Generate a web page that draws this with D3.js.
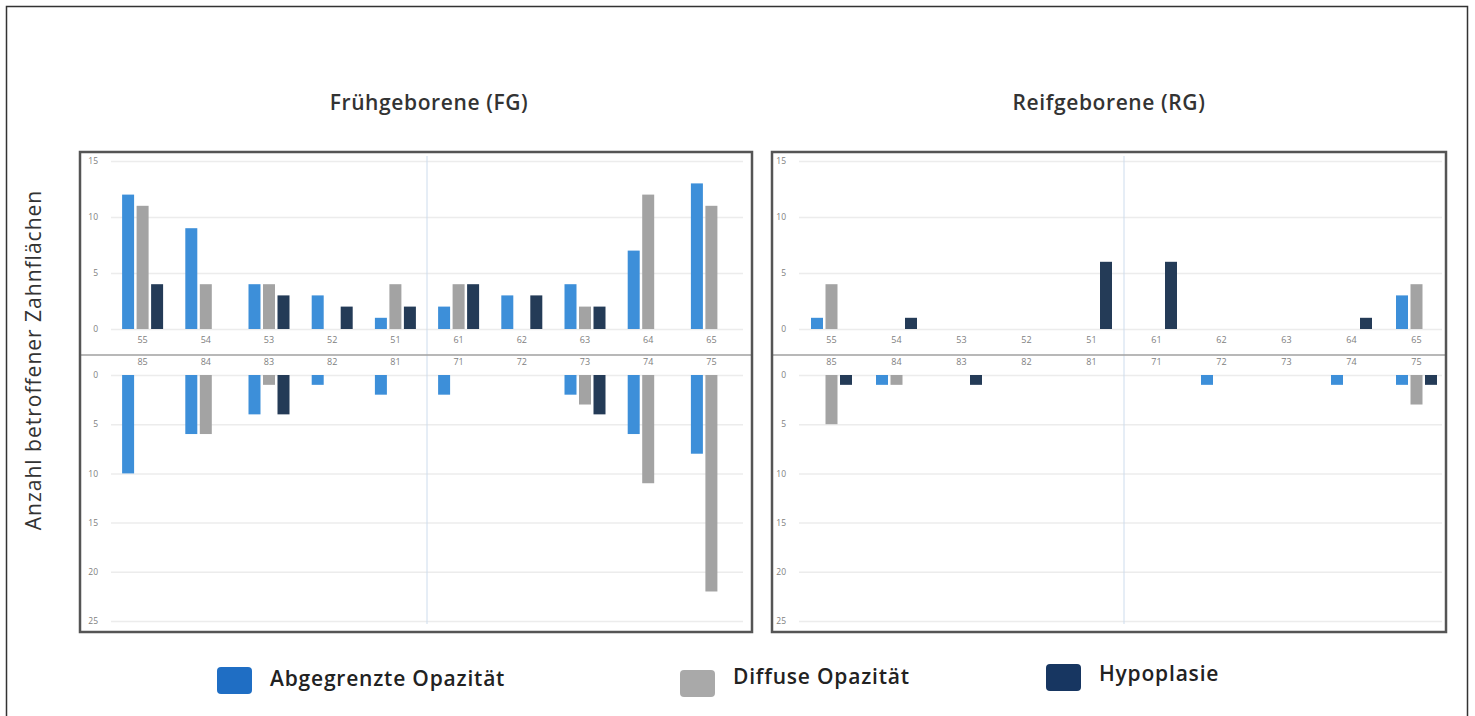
<!DOCTYPE html>
<html>
<head>
<meta charset="utf-8">
<script src="https://cdn.jsdelivr.net/npm/d3@7"></script>
<style>
  body { margin: 0; background: #fff; }
  svg { display: block; font-family: "Open Sans", sans-serif; }
</style>
</head>
<body>
<div id="chart"></div>
<script>
// tooth labels (upper row = Oberkiefer, lower row = Unterkiefer)
const topTeeth = ['55', '54', '53', '52', '51', '61', '62', '63', '64', '65'];
const bottomTeeth = ['85', '84', '83', '82', '81', '71', '72', '73', '74', '75'];
const seriesNames = ['Abgegrenzte Opazität', 'Diffuse Opazität', 'Hypoplasie'];

const topTicks = [0, 5, 10, 15];
const bottomTicks = [0, 5, 10, 15, 20, 25];

// Frühgeborene
const fgTopAbg = [12, 9, 4, 3, 1, 2, 3, 4, 7, 13];
const fgTopDif = [11, 4, 4, 0, 4, 4, 0, 2, 12, 11];
const fgTopHyp = [4, 0, 3, 2, 2, 4, 3, 2, 0, 0];
const fgBotAbg = [10, 6, 4, 1, 2, 2, 0, 2, 6, 8];
const fgBotDif = [0, 6, 1, 0, 0, 0, 0, 3, 11, 22];
const fgBotHyp = [0, 0, 4, 0, 0, 0, 0, 4, 0, 0];

// Reifgeborene
const rgTopAbg = [1, 0, 0, 0, 0, 0, 0, 0, 0, 3];
const rgTopDif = [4, 0, 0, 0, 0, 0, 0, 0, 0, 4];
const rgTopHyp = [0, 1, 0, 0, 6, 6, 0, 0, 1, 0];
const rgBotAbg = [0, 1, 0, 0, 0, 0, 1, 0, 1, 1];
const rgBotDif = [5, 1, 0, 0, 0, 0, 0, 0, 0, 3];
const rgBotHyp = [1, 0, 1, 0, 0, 0, 0, 0, 0, 1];

const barColors = ['#3d8fd9', '#a3a3a3', '#243b57'];
const legendColors = ['#1f6ec4', '#a9a9a9', '#173661'];

const width = 1475, height = 716;

const svg = d3.select('#chart').append('svg')
    .attr('width', width)
    .attr('height', height);

// outer frame
svg.append('rect')
    .attr('x', 6.5).attr('y', 6.5)
    .attr('width', 1461).attr('height', 720)
    .attr('fill', 'none')
    .attr('stroke', '#333')
    .attr('stroke-width', 1.5);

const panels = [
    {title: 'Frühgeborene (FG)', titleX: 429, box: [80, 152, 752, 632], band: [111, 743],
     top: [fgTopAbg, fgTopDif, fgTopHyp], bottom: [fgBotAbg, fgBotDif, fgBotHyp]},
    {title: 'Reifgeborene (RG)', titleX: 1109, box: [772, 152, 1446, 632], band: [799, 1449],
     top: [rgTopAbg, rgTopDif, rgTopHyp], bottom: [rgBotAbg, rgBotDif, rgBotHyp]}
];

const barW = 12;
const offsets = [-14.5, 0, 14.5];

panels.forEach(p => {
    const [bx0, by0, bx1, by1] = p.box;
    const g = svg.append('g');

    const x = d3.scaleBand()
        .domain(d3.range(topTeeth.length))
        .range(p.band);
    const yTop = d3.scaleLinear().domain([0, 15]).range([329, 161]);
    const yBot = d3.scaleLinear().domain([0, 25]).range([375, 621]);

    const gridEnd = Math.min(p.band[1], bx1 - 4);
    const gridW = gridEnd - p.band[0];

    // gridlines + tick labels
    const topAxis = g.append('g')
        .attr('transform', `translate(${p.band[0]},0)`)
        .call(d3.axisLeft(yTop).tickValues(topTicks).tickSize(-gridW).tickPadding(13));
    const botAxis = g.append('g')
        .attr('transform', `translate(${p.band[0]},0)`)
        .call(d3.axisLeft(yBot).tickValues(bottomTicks).tickSize(-gridW).tickPadding(13));
    [topAxis, botAxis].forEach(a => {
        a.select('.domain').remove();
        a.selectAll('line').attr('stroke', '#ececec').attr('stroke-width', 1.5);
        a.selectAll('text').attr('fill', '#808080').style('font-size', '8.5px')
            .style('font-family', '"Open Sans", sans-serif');
    });

    // vertical midline
    g.append('line')
        .attr('x1', p.band[0] + x.step() * 5).attr('x2', p.band[0] + x.step() * 5)
        .attr('y1', by0 + 4).attr('y2', by1 - 8)
        .attr('stroke', '#cddced').attr('stroke-width', 1);

    // separator between upper and lower jaw
    g.append('line')
        .attr('x1', bx0).attr('x2', bx1)
        .attr('y1', 355).attr('y2', 355)
        .attr('stroke', '#a0a0a0').attr('stroke-width', 1.5);

    // tooth labels
    g.selectAll('.toplbl').data(topTeeth).enter().append('text')
        .attr('x', (d, i) => x(i) + x.bandwidth() / 2)
        .attr('y', 343)
        .attr('text-anchor', 'middle')
        .attr('fill', '#808080')
        .style('font-size', '9px')
        .text(d => d);
    g.selectAll('.botlbl').data(bottomTeeth).enter().append('text')
        .attr('x', (d, i) => x(i) + x.bandwidth() / 2)
        .attr('y', 365)
        .attr('text-anchor', 'middle')
        .attr('fill', '#808080')
        .style('font-size', '9px')
        .text(d => d);

    // upper bars
    p.top.forEach((vals, s) => {
        g.selectAll(null).data(vals.map((v, i) => ({v, i}))).enter()
            .filter(d => d.v > 0)
            .append('rect')
            .attr('x', d => x(d.i) + x.bandwidth() / 2 + offsets[s] - barW / 2)
            .attr('y', d => yTop(d.v))
            .attr('width', barW)
            .attr('height', d => yTop(0) - yTop(d.v))
            .attr('fill', barColors[s]);
    });

    // lower bars (growing downward)
    p.bottom.forEach((vals, s) => {
        g.selectAll(null).data(vals.map((v, i) => ({v, i}))).enter()
            .filter(d => d.v > 0)
            .append('rect')
            .attr('x', d => x(d.i) + x.bandwidth() / 2 + offsets[s] - barW / 2)
            .attr('y', yBot(0))
            .attr('width', barW)
            .attr('height', d => yBot(d.v) - yBot(0))
            .attr('fill', barColors[s]);
    });

    // panel frame
    g.append('rect')
        .attr('x', bx0).attr('y', by0)
        .attr('width', bx1 - bx0).attr('height', by1 - by0)
        .attr('fill', 'none')
        .attr('stroke', '#555')
        .attr('stroke-width', 2.5);

    // title
    svg.append('text')
        .attr('x', p.titleX)
        .attr('y', 110)
        .attr('text-anchor', 'middle')
        .attr('fill', '#333')
        .style('font-size', '21px')
        .style('font-weight', 600)
        .style('letter-spacing', '0.6px')
        .text(p.title);
});

// y axis title
svg.append('text')
    .attr('transform', 'translate(41,360) rotate(-90)')
    .attr('text-anchor', 'middle')
    .attr('fill', '#333')
    .style('font-size', '21px')
    .style('letter-spacing', '1px')
    .text('Anzahl betroffener Zahnflächen');

// legend
const legendPos = [[217, 667, 686], [680, 670, 684], [1046, 664, 681]];
seriesNames.forEach((name, i) => {
    const [lx, ly, ty] = legendPos[i];
    svg.append('rect')
        .attr('x', lx).attr('y', ly)
        .attr('width', 35).attr('height', 27)
        .attr('rx', 4)
        .attr('fill', legendColors[i]);
    svg.append('text')
        .attr('x', lx + 53)
        .attr('y', ty)
        .attr('fill', '#222')
        .style('font-size', '21px')
        .style('font-weight', 600)
        .style('letter-spacing', '0.8px')
        .text(name);
});
</script>
</body>
</html>
